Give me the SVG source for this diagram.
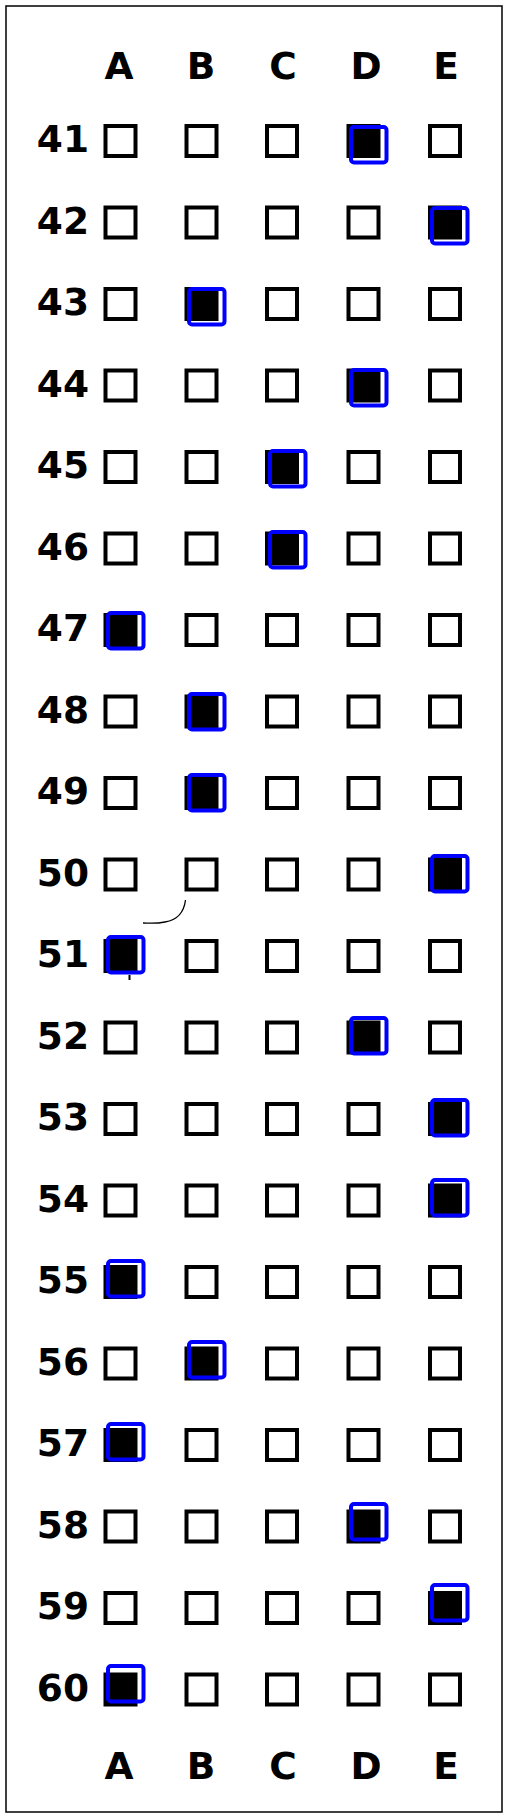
<svg xmlns="http://www.w3.org/2000/svg" xmlns:xlink="http://www.w3.org/1999/xlink" width="509" height="1818" viewBox="0 0 509 1818">
<style>
.t{font-family:"DejaVu Sans","Liberation Sans",sans-serif;font-weight:bold;font-size:37.5px;fill:#000}
.h{text-anchor:middle}
.n{text-anchor:end}
.b{fill:none;stroke:#000;stroke-width:4}
.f{fill:#000;stroke:#000;stroke-width:4}
.m{fill:none;stroke:#0000ff;stroke-width:4}
.frame{fill:none;stroke:#000;stroke-width:1.5}
</style>
<defs>
<rect id="bx" width="30" height="30" class="b"/>
<rect id="fb" width="30" height="30" class="f"/>
<rect id="mk" width="35.5" height="35.5" rx="3" class="m"/>
</defs>
<rect class="frame" x="6" y="6" width="496" height="1806" fill="#fff"/>
<g id="header-top" class="t h">
<text x="119" y="79">A</text><text x="201" y="79">B</text><text x="283" y="79">C</text><text x="366" y="79">D</text><text x="446" y="79">E</text>
</g>
<g id="row41"><text class="t n" x="89" y="152">41</text><use href="#bx" x="105.5" y="126"/><use href="#bx" x="186.5" y="126"/><use href="#bx" x="267" y="126"/><use href="#fb" x="348.5" y="126"/><use href="#bx" x="430" y="126"/><use href="#mk" x="351" y="127"/></g>
<g id="row42"><text class="t n" x="89" y="233.5">42</text><use href="#bx" x="105.5" y="207.5"/><use href="#bx" x="186.5" y="207.5"/><use href="#bx" x="267" y="207.5"/><use href="#bx" x="348.5" y="207.5"/><use href="#fb" x="430" y="207.5"/><use href="#mk" x="432" y="208"/></g>
<g id="row43"><text class="t n" x="89" y="315">43</text><use href="#bx" x="105.5" y="289"/><use href="#fb" x="186.5" y="289"/><use href="#bx" x="267" y="289"/><use href="#bx" x="348.5" y="289"/><use href="#bx" x="430" y="289"/><use href="#mk" x="189" y="289"/></g>
<g id="row44"><text class="t n" x="89" y="396.5">44</text><use href="#bx" x="105.5" y="370.5"/><use href="#bx" x="186.5" y="370.5"/><use href="#bx" x="267" y="370.5"/><use href="#fb" x="348.5" y="370.5"/><use href="#bx" x="430" y="370.5"/><use href="#mk" x="351" y="370"/></g>
<g id="row45"><text class="t n" x="89" y="478">45</text><use href="#bx" x="105.5" y="452"/><use href="#bx" x="186.5" y="452"/><use href="#fb" x="267" y="452"/><use href="#bx" x="348.5" y="452"/><use href="#bx" x="430" y="452"/><use href="#mk" x="270" y="451"/></g>
<g id="row46"><text class="t n" x="89" y="559.5">46</text><use href="#bx" x="105.5" y="533.5"/><use href="#bx" x="186.5" y="533.5"/><use href="#fb" x="267" y="533.5"/><use href="#bx" x="348.5" y="533.5"/><use href="#bx" x="430" y="533.5"/><use href="#mk" x="270" y="532"/></g>
<g id="row47"><text class="t n" x="89" y="641">47</text><use href="#fb" x="105.5" y="615"/><use href="#bx" x="186.5" y="615"/><use href="#bx" x="267" y="615"/><use href="#bx" x="348.5" y="615"/><use href="#bx" x="430" y="615"/><use href="#mk" x="108" y="613"/></g>
<g id="row48"><text class="t n" x="89" y="722.5">48</text><use href="#bx" x="105.5" y="696.5"/><use href="#fb" x="186.5" y="696.5"/><use href="#bx" x="267" y="696.5"/><use href="#bx" x="348.5" y="696.5"/><use href="#bx" x="430" y="696.5"/><use href="#mk" x="189" y="694"/></g>
<g id="row49"><text class="t n" x="89" y="804">49</text><use href="#bx" x="105.5" y="778"/><use href="#fb" x="186.5" y="778"/><use href="#bx" x="267" y="778"/><use href="#bx" x="348.5" y="778"/><use href="#bx" x="430" y="778"/><use href="#mk" x="189" y="775"/></g>
<g id="row50"><text class="t n" x="89" y="885.5">50</text><use href="#bx" x="105.5" y="859.5"/><use href="#bx" x="186.5" y="859.5"/><use href="#bx" x="267" y="859.5"/><use href="#bx" x="348.5" y="859.5"/><use href="#fb" x="430" y="859.5"/><use href="#mk" x="432" y="856"/></g>
<g id="row51"><text class="t n" x="89" y="967">51</text><use href="#fb" x="105.5" y="941"/><use href="#bx" x="186.5" y="941"/><use href="#bx" x="267" y="941"/><use href="#bx" x="348.5" y="941"/><use href="#bx" x="430" y="941"/><use href="#mk" x="108" y="937"/></g>
<g id="row52"><text class="t n" x="89" y="1048.5">52</text><use href="#bx" x="105.5" y="1022.5"/><use href="#bx" x="186.5" y="1022.5"/><use href="#bx" x="267" y="1022.5"/><use href="#fb" x="348.5" y="1022.5"/><use href="#bx" x="430" y="1022.5"/><use href="#mk" x="351" y="1018"/></g>
<g id="row53"><text class="t n" x="89" y="1130">53</text><use href="#bx" x="105.5" y="1104"/><use href="#bx" x="186.5" y="1104"/><use href="#bx" x="267" y="1104"/><use href="#bx" x="348.5" y="1104"/><use href="#fb" x="430" y="1104"/><use href="#mk" x="432" y="1100"/></g>
<g id="row54"><text class="t n" x="89" y="1211.5">54</text><use href="#bx" x="105.5" y="1185.5"/><use href="#bx" x="186.5" y="1185.5"/><use href="#bx" x="267" y="1185.5"/><use href="#bx" x="348.5" y="1185.5"/><use href="#fb" x="430" y="1185.5"/><use href="#mk" x="432" y="1180"/></g>
<g id="row55"><text class="t n" x="89" y="1293">55</text><use href="#fb" x="105.5" y="1267"/><use href="#bx" x="186.5" y="1267"/><use href="#bx" x="267" y="1267"/><use href="#bx" x="348.5" y="1267"/><use href="#bx" x="430" y="1267"/><use href="#mk" x="108" y="1261"/></g>
<g id="row56"><text class="t n" x="89" y="1374.5">56</text><use href="#bx" x="105.5" y="1348.5"/><use href="#fb" x="186.5" y="1348.5"/><use href="#bx" x="267" y="1348.5"/><use href="#bx" x="348.5" y="1348.5"/><use href="#bx" x="430" y="1348.5"/><use href="#mk" x="189" y="1342"/></g>
<g id="row57"><text class="t n" x="89" y="1456">57</text><use href="#fb" x="105.5" y="1430"/><use href="#bx" x="186.5" y="1430"/><use href="#bx" x="267" y="1430"/><use href="#bx" x="348.5" y="1430"/><use href="#bx" x="430" y="1430"/><use href="#mk" x="108" y="1424"/></g>
<g id="row58"><text class="t n" x="89" y="1537.5">58</text><use href="#bx" x="105.5" y="1511.5"/><use href="#bx" x="186.5" y="1511.5"/><use href="#bx" x="267" y="1511.5"/><use href="#fb" x="348.5" y="1511.5"/><use href="#bx" x="430" y="1511.5"/><use href="#mk" x="351" y="1504"/></g>
<g id="row59"><text class="t n" x="89" y="1619">59</text><use href="#bx" x="105.5" y="1593"/><use href="#bx" x="186.5" y="1593"/><use href="#bx" x="267" y="1593"/><use href="#bx" x="348.5" y="1593"/><use href="#fb" x="430" y="1593"/><use href="#mk" x="432" y="1585"/></g>
<g id="row60"><text class="t n" x="89" y="1700.5">60</text><use href="#fb" x="105.5" y="1674.5"/><use href="#bx" x="186.5" y="1674.5"/><use href="#bx" x="267" y="1674.5"/><use href="#bx" x="348.5" y="1674.5"/><use href="#bx" x="430" y="1674.5"/><use href="#mk" x="108" y="1666"/></g>
<g id="header-bottom" class="t h">
<text x="119" y="1779">A</text><text x="201" y="1779">B</text><text x="283" y="1779">C</text><text x="366" y="1779">D</text><text x="446" y="1779">E</text>
</g>
<g id="marks" fill="none" stroke="#000" stroke-width="1.3">
<path d="M185.5 900 C184 912 178 920 165 922 C155 924 148 923 143 923"/>
<path d="M129.5 975 L129.5 980" stroke-width="2"/>
</g>
</svg>
